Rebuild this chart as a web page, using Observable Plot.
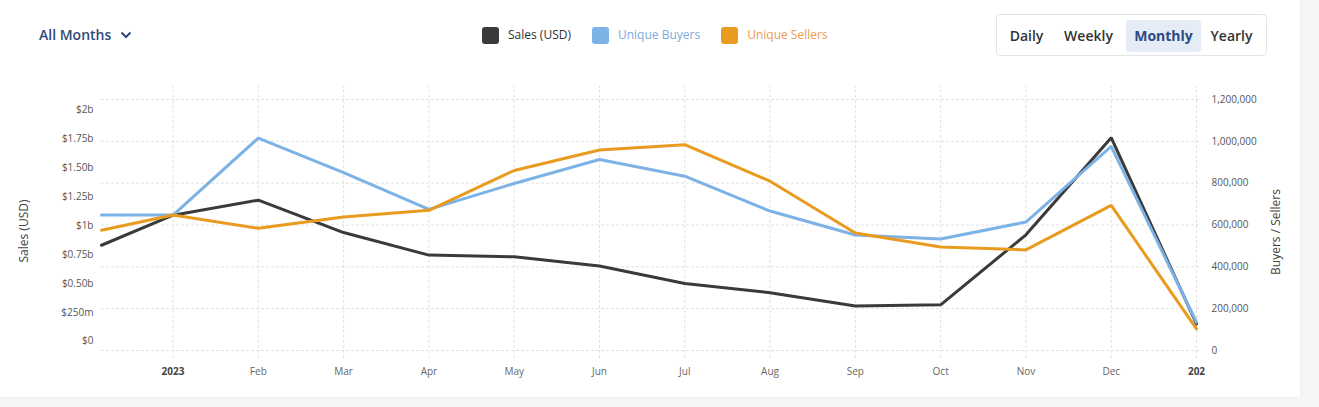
<!DOCTYPE html>
<html><head><meta charset="utf-8">
<script src="https://cdn.jsdelivr.net/npm/d3@7"></script>
<script src="https://cdn.jsdelivr.net/npm/@observablehq/plot@0.6"></script>
<style>
html,body{margin:0;padding:0;background:#f4f5f7;width:1319px;height:407px;overflow:hidden;font-family:"Open Sans",sans-serif}
#card{position:absolute;left:0;top:0;width:1300px;height:397px;background:#fff;box-shadow:0 0 3px rgba(0,0,0,0.05)}
#months{position:absolute;left:39px;top:25px;font-size:14px;font-weight:600;color:#2f4a78;line-height:20px;display:flex;align-items:center}
#months svg{margin-left:9px}
#legend{position:absolute;left:482px;top:26px;display:flex;align-items:center;font-size:12px;line-height:18px}
.li{display:flex;align-items:center;margin-right:21px}
.sw{width:17px;height:17px;border-radius:3px;margin-right:9px}
#btns{position:absolute;left:996px;top:14px;width:271px;height:42px;border:1px solid #e2e4e8;border-radius:4px;box-sizing:border-box}
.b{position:absolute;top:5px;height:32px;line-height:32px;font-size:14px;font-weight:600;color:#333;text-align:center;border-radius:3px}
#chart{position:absolute;left:0;top:80px}
</style></head>
<body>
<div id="card"></div>
<div id="months">All Months <svg width="12" height="8" viewBox="0 0 12 8"><polyline points="1.5,1.5 6,6 10.5,1.5" fill="none" stroke="#2f4a78" stroke-width="2"/></svg></div>
<div id="legend"></div>
<div id="btns"></div>
<div id="chart"></div>
<script>
// ---- data ----
const pointDates = ["2022-12-06","2023-01-01","2023-02-01","2023-03-01","2023-04-01","2023-05-01","2023-06-01","2023-07-01","2023-08-01","2023-09-01","2023-10-01","2023-11-01","2023-12-01","2024-01-01"];
const salesB  = [0.83, 1.09, 1.22, 0.94, 0.745, 0.73, 0.65, 0.50, 0.42, 0.305, 0.315, 0.92, 1.76, 0.15];
const buyers  = [647600, 647600, 1015700, 850000, 675000, 798600, 912900, 833300, 666700, 552000, 533000, 614000, 976000, 135000];
const sellers = [574800, 647600, 584300, 638000, 670000, 860500, 958600, 984000, 809500, 562000, 495000, 481000, 693600, 103000];
const xTickLabels = ["2023","Feb","Mar","Apr","May","Jun","Jul","Aug","Sep","Oct","Nov","Dec","202"];
const salesTicks = [0, 0.25, 0.5, 0.75, 1, 1.25, 1.5, 1.75, 2];
const salesTickLabels = ["$0","$250m","$0.50b","$0.75b","$1b","$1.25b","$1.50b","$1.75b","$2b"];
const countTicks = [0, 200000, 400000, 600000, 800000, 1000000, 1200000];
const seriesNames = ["Sales (USD)","Unique Buyers","Unique Sellers"];
const seriesColors = ["#3a3a3a","#7db2e6","#e99b1f"];
const legendTextColors = ["#333333","#7fa9dc","#eb9a55"];
const buttons = ["Daily","Weekly","Monthly","Yearly"];
const activeButton = "Monthly";

// ---- helpers ----
function monthPos(s){
  const d = new Date(s + "T00:00:00Z");
  const y = d.getUTCFullYear(), m = d.getUTCMonth();
  const dim = new Date(Date.UTC(y, m + 1, 0)).getUTCDate();
  return (y - 2023) * 12 + m + (d.getUTCDate() - 1) / dim;
}
// left axis (sales, billions) expressed in right-axis units
const salesToAxis = s => 44286 + s * 552857;

const rows = [];
pointDates.forEach((d, i) => rows.push({x: monthPos(d), v: salesToAxis(salesB[i]), s: seriesNames[0]}));
pointDates.forEach((d, i) => rows.push({x: monthPos(d), v: buyers[i], s: seriesNames[1]}));
pointDates.forEach((d, i) => rows.push({x: monthPos(d), v: sellers[i], s: seriesNames[2]}));
const x0 = monthPos(pointDates[0]);

// legend
const lg = document.getElementById("legend");
seriesNames.forEach((n, i) => {
  const el = document.createElement("div"); el.className = "li";
  el.innerHTML = `<div class="sw" style="background:${seriesColors[i]}"></div><span style="color:${legendTextColors[i]}">${n}</span>`;
  lg.appendChild(el);
});
// buttons
const bl = {Daily:[12,47],Weekly:[67,116],Monthly:[129,204],Yearly:[211,258]};
const bx = document.getElementById("btns");
buttons.forEach(b => {
  const el = document.createElement("div"); el.className = "b"; el.textContent = b;
  el.style.left = bl[b][0] + "px"; el.style.width = (bl[b][1] - bl[b][0]) + "px";
  if (b === activeButton) { el.style.background = "#e6ecf5"; el.style.color = "#2c4a84"; el.style.fontWeight = "700"; }
  bx.appendChild(el);
});

const salesLabelMap = new Map(salesTicks.map((t, i) => [salesToAxis(t), salesTickLabels[i]]));
const grid = {stroke: "#e2e2e2", strokeDasharray: "3,2", strokeOpacity: 1};

const chart = Plot.plot({
  width: 1319, height: 317,
  marginLeft: 101, marginRight: 123, marginTop: 19, marginBottom: 47,
  x: {type: "linear", domain: [x0, 12]},
  y: {domain: [0, 1200000]},
  color: {domain: seriesNames, range: seriesColors},
  style: {fontFamily: "'Open Sans', sans-serif", fontSize: "10px", color: "#555", background: "transparent", overflow: "visible"},
  marks: [
    Plot.ruleX(d3.range(0, 13), {y1: -38000, y2: 1262000, ...grid}),
    Plot.ruleY(countTicks, {x1: x0, x2: 12.05, ...grid}),
    Plot.axisY(countTicks, {anchor: "right", tickSize: 0, tickPadding: 15, tickFormat: d3.format(","), label: null}),
    Plot.axisY(salesTicks.map(salesToAxis), {anchor: "left", tickSize: 0, tickPadding: 8, tickFormat: d => salesLabelMap.get(d), label: null}),
    Plot.axisX(d3.range(1, 12), {tickSize: 0, tickPadding: 17, tickFormat: i => xTickLabels[i], label: null, fill: "#666"}),
    Plot.axisX([0, 12], {tickSize: 0, tickPadding: 17, tickFormat: i => xTickLabels[i], label: null, fontWeight: "bold", fill: "#444"}),
    Plot.text(["Sales (USD)"], {frameAnchor: "left", textAnchor: "middle", dx: -77, dy: 6, rotate: -90, fontSize: 12, fill: "#444"}),
    Plot.text(["Buyers / Sellers"], {frameAnchor: "right", textAnchor: "middle", dx: 80, dy: 7, rotate: -90, fontSize: 12, fill: "#444"}),
    Plot.line(rows, {x: "x", y: "v", z: "s", stroke: "s", strokeWidth: 3, strokeLinejoin: "miter"})
  ]
});
document.getElementById("chart").appendChild(chart);
</script>
</body></html>
